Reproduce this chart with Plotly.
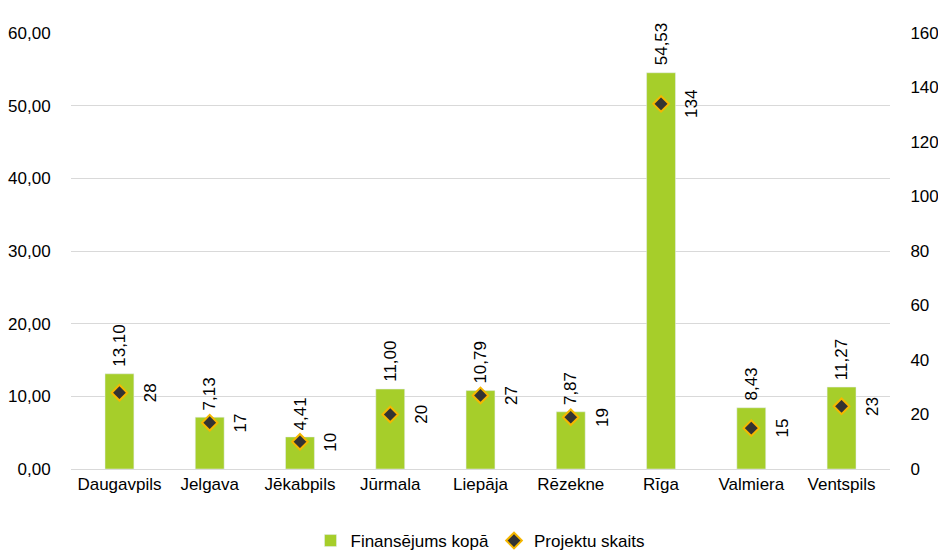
import plotly.graph_objects as go

cities = ['Daugavpils', 'Jelgava', 'Jēkabpils', 'Jūrmala', 'Liepāja',
          'Rēzekne', 'Rīga', 'Valmiera', 'Ventspils']
funding = [13.10, 7.13, 4.41, 11.00, 10.79, 7.87, 54.53, 8.43, 11.27]
projects = [28, 17, 10, 20, 27, 19, 134, 15, 23]

FONT = 'Liberation Sans, Arial, sans-serif'
FS = 17

fig = go.Figure()
fig.add_trace(go.Bar(
    x=cities, y=funding, name='Finansējums kopā',
    marker=dict(color='#a6ce2a'), width=0.32,
))
fig.add_trace(go.Scatter(
    x=cities, y=projects, name='Projektu skaits', yaxis='y2',
    mode='markers',
    marker=dict(symbol='diamond', size=12, color='#333333',
                line=dict(color='#f5b700', width=2)),
))

ann = []
for c, v in zip(cities, funding):
    ann.append(dict(x=c, y=v, xref='x', yref='y', text=f'{v:.2f}'.replace('.', ','),
                    textangle=-90, showarrow=False, yanchor='bottom', xanchor='center',
                    yshift=5, font=dict(size=FS, color='#000')))
for c, n in zip(cities, projects):
    ann.append(dict(x=c, y=n, xref='x', yref='y2', text=str(n),
                    textangle=-90, showarrow=False, yanchor='middle', xanchor='center',
                    xshift=31, font=dict(size=FS, color='#000')))

fig.update_layout(
    width=938, height=553,
    margin=dict(l=71, r=48, t=33, b=84),
    plot_bgcolor='white', paper_bgcolor='white',
    font=dict(family=FONT, size=FS, color='#000'),
    separators=', ',
    bargap=0.5,
    showlegend=True,
    xaxis=dict(showgrid=False, showline=True, linecolor='#d9d9d9', ticks='',
               automargin=False, tickfont=dict(size=FS)),
    yaxis=dict(range=[0, 60], dtick=10, tickformat='.2f', gridcolor='#d9d9d9',
               zeroline=False, ticks='outside', ticklen=16, tickcolor='white',
               automargin=False, tickfont=dict(size=FS)),
    yaxis2=dict(range=[0, 160], dtick=20, overlaying='y', side='right',
                showgrid=False, zeroline=False, ticks='outside', ticklen=16,
                tickcolor='white', automargin=False, tickfont=dict(size=FS)),
    legend=dict(orientation='h', x=0.5, xanchor='center', y=12 / 553,
                yref='container', yanchor='middle', itemwidth=30,
                font=dict(size=FS)),
    annotations=ann,
)

# drop the default 8px body margin so the figure fills the window exactly
fig.write_html('out.html', config={'displayModeBar': False},
               post_script="document.body.style.margin='0';"
                           "document.body.style.overflow='hidden';")
